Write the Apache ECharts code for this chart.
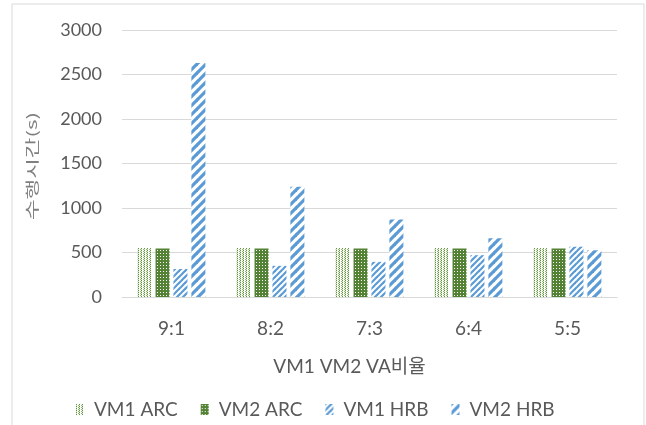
<!DOCTYPE html>
<html><head><meta charset="utf-8">
<script src="https://cdn.jsdelivr.net/npm/echarts@6/dist/echarts.min.js"></script>
<style>html,body{margin:0;padding:0;background:#fff}#c{width:646px;height:425px}</style>
</head><body><div id="c"></div>
<script>
const categories = ['9:1','8:2','7:3','6:4','5:5'];
const vm1Arc = [550, 550, 550, 550, 550];
const vm2Arc = [545, 545, 545, 545, 545];
const vm1Hrb = [315, 350, 395, 470, 565];
const vm2Hrb = [2630, 1240, 870, 660, 525];
const seriesNames = ['VM1 ARC','VM2 ARC','VM1 HRB','VM2 HRB'];
const yTicks = [0, 500, 1000, 1500, 2000, 2500, 3000];

function pat(w, h, draw) {
  const c = document.createElement('canvas');
  c.width = w; c.height = h;
  const g = c.getContext('2d');
  g.fillStyle = '#fff'; g.fillRect(0, 0, w, h);
  draw(g);
  return { image: c, repeat: 'repeat' };
}
const pDots = pat(3, 2, g => {
  g.fillStyle = '#5f9338'; g.fillRect(0, 0, 1, 1);
  g.fillStyle = '#8fb872'; g.fillRect(2, 1, 1, 1);
  g.fillStyle = '#d3e5c5'; g.fillRect(0, 1, 1, 1);
});
const pGrid = pat(3, 3, g => {
  g.fillStyle = '#548235'; g.fillRect(0, 0, 3, 3);
  g.fillStyle = '#ffffff'; g.fillRect(1, 1, 1, 1);
});
function stripes(size, width, color) {
  return pat(size, size, g => {
    g.strokeStyle = color; g.lineWidth = width;
    for (let k = -1; k <= 1; k++) {
      g.beginPath();
      g.moveTo(k * size - 1, size + 1);
      g.lineTo(k * size + size + 1, -1);
      g.stroke();
    }
  });
}
const pThin = stripes(6, 2.2, '#5b9bd5');
const pWide = stripes(9, 3.2, '#5b9bd5');

const font = "Lato, 'Noto Sans CJK KR', sans-serif";
const chart = echarts.init(document.getElementById('c'), null, { renderer: 'canvas' });
const vals = [vm1Arc, vm2Arc, vm1Hrb, vm2Hrb];
const pats = [pDots, pGrid, pThin, pWide];
chart.setOption({
  animation: false,
  textStyle: { fontFamily: font },
  graphic: [
    { type: 'rect', shape: { x: 12, y: 4, width: 632, height: 430 }, style: { fill: null, stroke: '#d9d9d9', lineWidth: 1 } },
    { type: 'text', x: 32, y: 166, rotation: Math.PI / 2, scaleX: 1.6,
      style: { text: '수행시간(s)', font: "14px 'Noto Sans CJK KR', sans-serif", fill: '#7f7f7f', align: 'center', verticalAlign: 'middle' } }
  ],
  grid: { left: 122, right: 29, top: 30, bottom: 128 },
  legend: {
    top: 395, left: 71, icon: 'rect', itemWidth: 8, itemHeight: 11, itemGap: 23,
    textStyle: { fontSize: 19, color: '#595959', fontFamily: font, padding: [0, 0, 0, 5] },
    data: seriesNames
  },
  xAxis: {
    type: 'category', data: categories,
    name: 'VM1 VM2 VA비율', nameLocation: 'middle', nameGap: 60,
    nameTextStyle: { fontSize: 19, color: '#595959', fontFamily: font, padding: [0, 40, 0, 0] },
    axisLine: { lineStyle: { color: '#d9d9d9' } }, axisTick: { show: false },
    axisLabel: { fontSize: 19, color: '#595959', margin: 22 }
  },
  yAxis: {
    type: 'value', min: 0, max: 3000, interval: 500,
    axisLine: { show: false }, axisTick: { show: false },
    axisLabel: { fontSize: 18, color: '#595959', margin: 20, formatter: v => yTicks.includes(v) ? String(v) : '' },
    splitLine: { lineStyle: { color: '#d9d9d9' } }
  },
  series: seriesNames.map((n, i) => ({
    name: n, type: 'bar', data: vals[i], barWidth: 14, barGap: '28%',
    itemStyle: { color: pats[i] }
  }))
});
</script></body></html>
